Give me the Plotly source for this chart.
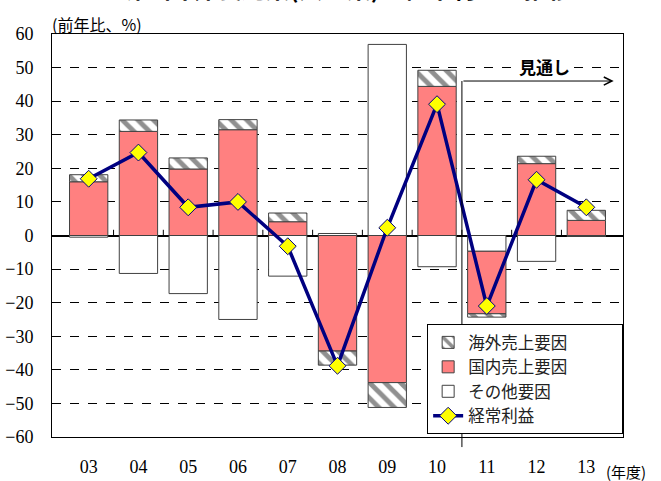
import plotly.graph_objects as go

years = ["03", "04", "05", "06", "07", "08", "09", "10", "11", "12", "13"]
overseas = [2.1, 3.4, 3.3, 3.0, 2.6, -4.2, -7.4, 4.8, -1.0, 2.2, 3.0]
domestic = [16.0, 31.0, 19.8, 31.5, 4.1, -34.4, -43.8, 44.4, -18.6, 21.4, 4.5]
other = [-0.5, -11.3, -17.3, -25.0, -12.1, 0.6, 56.9, -9.3, -4.7, -7.7, -0.3]
profit = [16.9, 24.7, 8.4, 10.0, -3.2, -38.8, 2.3, 39.1, -21.0, 16.6, 8.4]

names = ["海外売上要因", "国内売上要因", "その他要因", "経常利益"]
title_text = "第3図 非製造業(大企業)の経常利益の推移"
ylabel = "(前年比、%)"
xlabel = "(年度)"
forecast_label = "見通し"
forecast_start = "11"

YMIN, YMAX = -60, 60
CJK = "Noto Sans CJK JP"
SERIF = "Liberation Serif"
PAD = "\u3000\u3000\u3000"

fig = go.Figure()
edge = dict(color="#404040", width=1)
fig.add_trace(go.Bar(x=years, y=other, name=names[2], legendrank=3,
                     marker=dict(color="white", line=edge)))
fig.add_trace(go.Bar(x=years, y=domestic, name=names[1], legendrank=2,
                     marker=dict(color="#FF8080", line=edge)))
fig.add_trace(go.Bar(x=years, y=overseas, name=names[0] + PAD, legendrank=1,
                     marker=dict(color="white", line=edge,
                                 pattern=dict(shape="\\", fgcolor="#222222",
                                              bgcolor="white", size=11, solidity=0.45))))
fig.add_trace(go.Scatter(x=years, y=profit, name=names[3], legendrank=4,
                         mode="lines+markers",
                         line=dict(color="#000080", width=3.5),
                         marker=dict(symbol="diamond", size=13, color="#FFFF00",
                                     line=dict(color="#000080", width=1))))

# forecast divider
idx = years.index(forecast_start) - 0.5
arrow_y = 46
def py(v):
    return (v - YMIN) / (YMAX - YMIN)
fig.add_shape(type="line", xref="x", yref="paper", x0=idx, x1=idx,
              y0=-0.025, y1=py(arrow_y), line=dict(color="black", width=1))
fig.add_annotation(x=len(years) - 1 + 0.55, y=arrow_y, ax=idx, ay=arrow_y,
                   xref="x", yref="y", axref="x", ayref="y", text="",
                   showarrow=True, arrowhead=5, arrowsize=1.6, arrowwidth=1,
                   arrowcolor="black")
fig.add_annotation(x=idx + 1.65, y=50.2, xref="x", yref="y", text="<b>" + forecast_label + "</b>",
                   showarrow=False, font=dict(family=CJK, size=17, color="black"),
                   bgcolor="white", borderpad=0)

# small ticks on zero line at category boundaries
for i in range(len(years) - 1):
    fig.add_shape(type="line", xref="x", yref="y", x0=i + 0.5, x1=i + 0.5,
                  y0=0, y1=1.7, line=dict(color="black", width=1))

fig.add_annotation(x=-0.004, y=1.025, xref="paper", yref="paper", text=ylabel,
                   showarrow=False, xanchor="left", yanchor="middle",
                   font=dict(family=CJK, size=16, color="black"))
fig.add_annotation(x=0.966, y=-0.085, xref="paper", yref="paper", text=xlabel,
                   showarrow=False, xanchor="left", yanchor="middle",
                   font=dict(family=CJK, size=15, color="black"))
fig.add_annotation(x=0.52, y=1.068, xref="paper", yref="paper", text="<b>" + title_text + "</b>",
                   showarrow=False, xanchor="center", yanchor="bottom",
                   font=dict(family=CJK, size=24, color="black"))

fig.update_layout(
    width=661, height=481,
    margin=dict(l=52, r=38, t=34, b=44, autoexpand=False),
    paper_bgcolor="white", plot_bgcolor="white",
    barmode="relative", bargap=0.23,
    showlegend=True,
    legend=dict(x=0.657, y=0.28, xanchor="left", yanchor="top",
                bgcolor="white", bordercolor="black", borderwidth=1,
                font=dict(family=CJK, size=16.5, color="#222222"),
                itemwidth=30, tracegroupgap=0),
)
fig.update_xaxes(type="category", categoryorder="array", categoryarray=years,
                 automargin=False,
                 showgrid=False, showline=True, mirror=True, linecolor="black", linewidth=1,
                 ticks="", tickfont=dict(family=SERIF, size=18, color="black"),
                 ticklabelstandoff=13)
fig.update_yaxes(range=[YMIN, YMAX], dtick=10, showgrid=True, gridcolor="black",
                 automargin=False,
                 griddash="dash", gridwidth=1, zeroline=True, zerolinecolor="black",
                 zerolinewidth=1.5, showline=True, mirror=True, linecolor="black", linewidth=1,
                 ticks="", tickfont=dict(family=SERIF, size=18, color="black"),
                 ticklabelstandoff=14)

fig.write_html("out.html")
